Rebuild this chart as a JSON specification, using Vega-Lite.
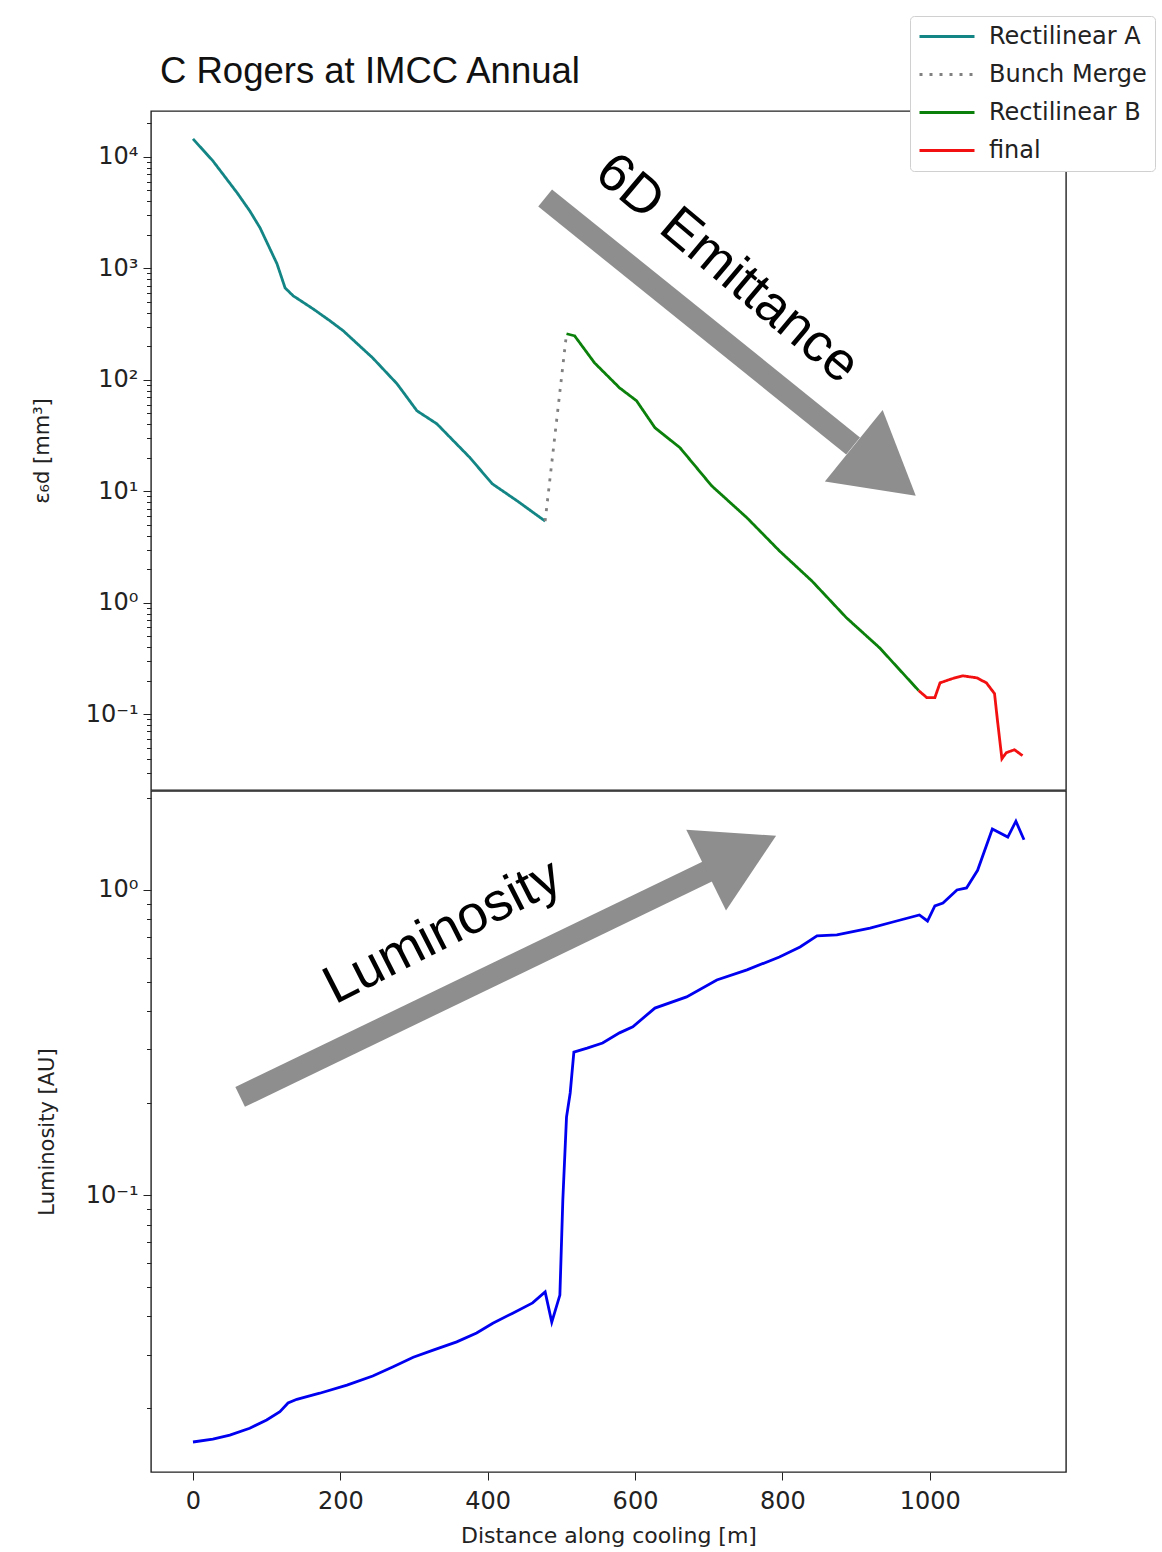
{
  "$schema": "https://vega.github.io/schema/vega-lite/v6.json",
  "autosize": {"type": "pad"},
  "padding": {"left": 30, "top": 15, "right": 0, "bottom": 0},
  "background": "white",
  "title": {"text": "C Rogers at IMCC Annual", "anchor": "start", "frame": "group", "font": "Liberation Sans", "fontSize": 36.5, "fontWeight": "normal", "color": "#111111", "dx": 9, "offset": -75},
  "spacing": -6,
  "config": {
    "view": {"stroke": "#222222", "strokeWidth": 1.4},
    "axis": {"labelFont": "DejaVu Sans", "titleFont": "DejaVu Sans", "labelFontSize": 24, "titleFontSize": 21, "labelColor": "#222222", "titleColor": "#222222", "titleFontWeight": "normal", "domain": false, "grid": false, "tickColor": "#222222", "labelOverlap": false}
  },
  "datasets": {
    "emittance": [
      {"distance": 0, "emittance": 14500, "series": "Rectilinear A"},
      {"distance": 27, "emittance": 9200, "series": "Rectilinear A"},
      {"distance": 60, "emittance": 4750, "series": "Rectilinear A"},
      {"distance": 77, "emittance": 3280, "series": "Rectilinear A"},
      {"distance": 91, "emittance": 2310, "series": "Rectilinear A"},
      {"distance": 114, "emittance": 1100, "series": "Rectilinear A"},
      {"distance": 125, "emittance": 668, "series": "Rectilinear A"},
      {"distance": 136, "emittance": 567, "series": "Rectilinear A"},
      {"distance": 163, "emittance": 433, "series": "Rectilinear A"},
      {"distance": 186, "emittance": 338, "series": "Rectilinear A"},
      {"distance": 204, "emittance": 275, "series": "Rectilinear A"},
      {"distance": 244, "emittance": 157, "series": "Rectilinear A"},
      {"distance": 277, "emittance": 92, "series": "Rectilinear A"},
      {"distance": 304, "emittance": 52.7, "series": "Rectilinear A"},
      {"distance": 331, "emittance": 40.3, "series": "Rectilinear A"},
      {"distance": 376, "emittance": 20, "series": "Rectilinear A"},
      {"distance": 406, "emittance": 11.7, "series": "Rectilinear A"},
      {"distance": 440, "emittance": 8.2, "series": "Rectilinear A"},
      {"distance": 478, "emittance": 5.4, "series": "Rectilinear A"},
      {"distance": 478, "emittance": 5.4, "series": "Bunch Merge"},
      {"distance": 507, "emittance": 259, "series": "Bunch Merge"},
      {"distance": 507, "emittance": 259, "series": "Rectilinear B"},
      {"distance": 518, "emittance": 248, "series": "Rectilinear B"},
      {"distance": 545, "emittance": 142, "series": "Rectilinear B"},
      {"distance": 579, "emittance": 84.7, "series": "Rectilinear B"},
      {"distance": 602, "emittance": 64.9, "series": "Rectilinear B"},
      {"distance": 627, "emittance": 37.2, "series": "Rectilinear B"},
      {"distance": 661, "emittance": 24.6, "series": "Rectilinear B"},
      {"distance": 704, "emittance": 11.2, "series": "Rectilinear B"},
      {"distance": 752, "emittance": 5.78, "series": "Rectilinear B"},
      {"distance": 796, "emittance": 2.92, "series": "Rectilinear B"},
      {"distance": 840, "emittance": 1.57, "series": "Rectilinear B"},
      {"distance": 887, "emittance": 0.733, "series": "Rectilinear B"},
      {"distance": 932, "emittance": 0.394, "series": "Rectilinear B"},
      {"distance": 985, "emittance": 0.163, "series": "Rectilinear B"},
      {"distance": 985, "emittance": 0.163, "series": "final"},
      {"distance": 996, "emittance": 0.141, "series": "final"},
      {"distance": 1007, "emittance": 0.141, "series": "final"},
      {"distance": 1014, "emittance": 0.191, "series": "final"},
      {"distance": 1030, "emittance": 0.208, "series": "final"},
      {"distance": 1045, "emittance": 0.221, "series": "final"},
      {"distance": 1064, "emittance": 0.212, "series": "final"},
      {"distance": 1077, "emittance": 0.191, "series": "final"},
      {"distance": 1088, "emittance": 0.153, "series": "final"},
      {"distance": 1092, "emittance": 0.0875, "series": "final"},
      {"distance": 1098, "emittance": 0.0399, "series": "final"},
      {"distance": 1104, "emittance": 0.0452, "series": "final"},
      {"distance": 1115, "emittance": 0.048, "series": "final"},
      {"distance": 1126, "emittance": 0.0425, "series": "final"}
    ],
    "luminosity": [
      {"distance": 0, "luminosity": 0.0155},
      {"distance": 27, "luminosity": 0.01585},
      {"distance": 50, "luminosity": 0.01633},
      {"distance": 77, "luminosity": 0.0172},
      {"distance": 100, "luminosity": 0.0183},
      {"distance": 118, "luminosity": 0.0195},
      {"distance": 129, "luminosity": 0.0208},
      {"distance": 141, "luminosity": 0.0214},
      {"distance": 172, "luminosity": 0.0224},
      {"distance": 209, "luminosity": 0.0238},
      {"distance": 244, "luminosity": 0.0255},
      {"distance": 271, "luminosity": 0.0273},
      {"distance": 299, "luminosity": 0.0294},
      {"distance": 326, "luminosity": 0.031},
      {"distance": 358, "luminosity": 0.033},
      {"distance": 385, "luminosity": 0.0353},
      {"distance": 407, "luminosity": 0.038},
      {"distance": 434, "luminosity": 0.041},
      {"distance": 461, "luminosity": 0.0443},
      {"distance": 478, "luminosity": 0.0481},
      {"distance": 487, "luminosity": 0.0383},
      {"distance": 498, "luminosity": 0.047},
      {"distance": 502, "luminosity": 0.0963},
      {"distance": 507, "luminosity": 0.18},
      {"distance": 512, "luminosity": 0.216},
      {"distance": 517, "luminosity": 0.294},
      {"distance": 535, "luminosity": 0.303},
      {"distance": 556, "luminosity": 0.315},
      {"distance": 579, "luminosity": 0.34},
      {"distance": 597, "luminosity": 0.356},
      {"distance": 627, "luminosity": 0.41},
      {"distance": 670, "luminosity": 0.446},
      {"distance": 711, "luminosity": 0.507},
      {"distance": 752, "luminosity": 0.547},
      {"distance": 796, "luminosity": 0.603},
      {"distance": 824, "luminosity": 0.65},
      {"distance": 847, "luminosity": 0.707},
      {"distance": 874, "luminosity": 0.712},
      {"distance": 919, "luminosity": 0.75},
      {"distance": 950, "luminosity": 0.785},
      {"distance": 986, "luminosity": 0.828},
      {"distance": 997, "luminosity": 0.791},
      {"distance": 1007, "luminosity": 0.887},
      {"distance": 1018, "luminosity": 0.906},
      {"distance": 1037, "luminosity": 1.0},
      {"distance": 1050, "luminosity": 1.015},
      {"distance": 1065, "luminosity": 1.16},
      {"distance": 1085, "luminosity": 1.585},
      {"distance": 1106, "luminosity": 1.49},
      {"distance": 1117, "luminosity": 1.68},
      {"distance": 1128, "luminosity": 1.46}
    ],
    "emit_shaft": [
      {"distance": 478, "emittance": 4280},
      {"distance": 896, "emittance": 25.5}
    ],
    "emit_head": [{"distance": 939, "emittance": 15.3}],
    "emit_text": [{"distance": 725, "emittance": 990, "label": "6D Emittance"}],
    "lum_shaft": [
      {"distance": 64, "luminosity": 0.2096},
      {"distance": 700, "luminosity": 1.155}
    ],
    "lum_head": [{"distance": 744, "luminosity": 1.322}],
    "lum_text": [{"distance": 339, "luminosity": 0.728, "label": "Luminosity"}]
  },
  "vconcat": [
    {
      "width": 915,
      "height": 679,
      "layer": [
        {
          "data": {"name": "emittance"},
          "mark": {"type": "line", "strokeWidth": 2.8},
          "encoding": {
            "x": {"field": "distance", "type": "quantitative", "scale": {"domain": [-57, 1185], "nice": false, "zero": false}, "axis": null},
            "y": {
              "field": "emittance", "type": "quantitative",
              "scale": {"type": "log", "domain": [0.0209, 25800], "nice": false},
              "axis": {
                "title": "ε₆d [mm³]",
                "titlePadding": 33,
                "labelPadding": 5,
                "values": [0.03, 0.04, 0.05, 0.06, 0.07, 0.08, 0.09, 0.1, 0.2, 0.3, 0.4, 0.5, 0.6, 0.7, 0.8, 0.9, 1, 2, 3, 4, 5, 6, 7, 8, 9, 10, 20, 30, 40, 50, 60, 70, 80, 90, 100, 200, 300, 400, 500, 600, 700, 800, 900, 1000, 2000, 3000, 4000, 5000, 6000, 7000, 8000, 9000, 10000, 20000],
                "labelExpr": "abs(log(datum.value)/LN10 - round(log(datum.value)/LN10)) < 0.001 ? '10' + (round(log(datum.value)/LN10) < 0 ? '⁻' : '') + ['⁰','¹','²','³','⁴','⁵'][abs(round(log(datum.value)/LN10))] : ''",
                "tickSize": {"condition": {"test": "abs(log(datum.value)/LN10 - round(log(datum.value)/LN10)) < 0.001", "value": 8}, "value": 4.5}
              }
            },
            "color": {
              "field": "series", "type": "nominal",
              "scale": {"domain": ["Rectilinear A", "Bunch Merge", "Rectilinear B", "final"], "range": ["#138585", "#808080", "#0b800b", "#f21010"]},
              "legend": {"title": null, "orient": "none", "legendX": 759, "legendY": -95, "symbolType": "stroke", "symbolSize": 3025, "symbolStrokeWidth": 3, "labelFontSize": 24, "labelFont": "DejaVu Sans", "labelColor": "#222222", "padding": 8, "rowPadding": 13, "clipHeight": 25, "fillColor": "white", "strokeColor": "#d0d0d0", "cornerRadius": 4, "labelOffset": 13}
            },
            "strokeDash": {
              "field": "series", "type": "nominal",
              "scale": {"domain": ["Rectilinear A", "Bunch Merge", "Rectilinear B", "final"], "range": [[1, 0], [3, 7], [1, 0], [1, 0]]},
              "legend": {"title": null, "orient": "none", "legendX": 759, "legendY": -95, "symbolType": "stroke", "symbolSize": 3025, "symbolStrokeWidth": 3, "labelFontSize": 24, "labelFont": "DejaVu Sans", "labelColor": "#222222", "padding": 8, "rowPadding": 13, "clipHeight": 25, "fillColor": "white", "strokeColor": "#d0d0d0", "cornerRadius": 4, "labelOffset": 13}
            }
          }
        },
        {
          "data": {"name": "emit_shaft"},
          "mark": {"type": "line", "color": "#8e8e8e", "strokeWidth": 22, "strokeCap": "butt"},
          "encoding": {
            "x": {"field": "distance", "type": "quantitative"},
            "y": {"field": "emittance", "type": "quantitative"}
          }
        },
        {
          "data": {"name": "emit_head"},
          "mark": {"type": "point", "shape": "triangle-right", "filled": true, "color": "#8e8e8e", "opacity": 1, "size": 8464, "angle": 38.9, "strokeWidth": 0},
          "encoding": {
            "x": {"field": "distance", "type": "quantitative"},
            "y": {"field": "emittance", "type": "quantitative"}
          }
        },
        {
          "data": {"name": "emit_text"},
          "mark": {"type": "text", "font": "Liberation Sans", "fontSize": 54, "angle": 40, "align": "center", "baseline": "middle", "color": "#000000"},
          "encoding": {
            "x": {"field": "distance", "type": "quantitative"},
            "y": {"field": "emittance", "type": "quantitative"},
            "text": {"field": "label"}
          }
        }
      ]
    },
    {
      "width": 915,
      "height": 681,
      "layer": [
        {
          "data": {"name": "luminosity"},
          "mark": {"type": "line", "color": "#0000f0", "strokeWidth": 2.8},
          "encoding": {
            "x": {
              "field": "distance", "type": "quantitative",
              "scale": {"domain": [-57, 1185], "nice": false, "zero": false},
              "axis": {"title": "Distance along cooling [m]", "values": [0, 200, 400, 600, 800, 1000], "format": "d", "tickSize": 8, "labelPadding": 9, "titlePadding": 12, "titleFontSize": 22}
            },
            "y": {
              "field": "luminosity", "type": "quantitative",
              "scale": {"type": "log", "domain": [0.01236, 2.11], "nice": false},
              "axis": {
                "title": "Luminosity [AU]",
                "titlePadding": 28,
                "labelPadding": 5,
                "values": [0.02, 0.03, 0.04, 0.05, 0.06, 0.07, 0.08, 0.09, 0.1, 0.2, 0.3, 0.4, 0.5, 0.6, 0.7, 0.8, 0.9, 1, 2],
                "labelExpr": "abs(log(datum.value)/LN10 - round(log(datum.value)/LN10)) < 0.001 ? '10' + (round(log(datum.value)/LN10) < 0 ? '⁻' : '') + ['⁰','¹','²','³','⁴','⁵'][abs(round(log(datum.value)/LN10))] : ''",
                "tickSize": {"condition": {"test": "abs(log(datum.value)/LN10 - round(log(datum.value)/LN10)) < 0.001", "value": 8}, "value": 4.5}
              }
            }
          }
        },
        {
          "data": {"name": "lum_shaft"},
          "mark": {"type": "line", "color": "#8e8e8e", "strokeWidth": 22, "strokeCap": "butt"},
          "encoding": {
            "x": {"field": "distance", "type": "quantitative"},
            "y": {"field": "luminosity", "type": "quantitative"}
          }
        },
        {
          "data": {"name": "lum_head"},
          "mark": {"type": "point", "shape": "triangle-right", "filled": true, "color": "#8e8e8e", "opacity": 1, "size": 8100, "angle": 333.8, "strokeWidth": 0},
          "encoding": {
            "x": {"field": "distance", "type": "quantitative"},
            "y": {"field": "luminosity", "type": "quantitative"}
          }
        },
        {
          "data": {"name": "lum_text"},
          "mark": {"type": "text", "font": "Liberation Sans", "fontSize": 54, "angle": 333, "align": "center", "baseline": "middle", "color": "#000000"},
          "encoding": {
            "x": {"field": "distance", "type": "quantitative"},
            "y": {"field": "luminosity", "type": "quantitative"},
            "text": {"field": "label"}
          }
        }
      ]
    }
  ]
}
